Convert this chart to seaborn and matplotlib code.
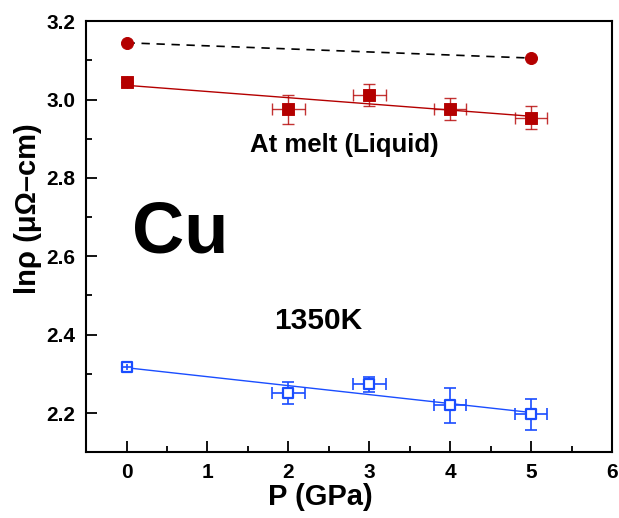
import matplotlib
matplotlib.use("Agg")
import matplotlib.pyplot as plt
from matplotlib.ticker import MultipleLocator, FormatStrFormatter
import seaborn as sns
import pandas as pd

# ln(rho) data
p_melt = [0, 5]
lnrho_melt = [3.145, 3.106]

p_liq = [0, 2, 3, 4, 5]
lnrho_liq = [3.045, 2.975, 3.011, 2.976, 2.954]
yerr_liq = [0.0, 0.038, 0.028, 0.029, 0.030]
xerr_liq = [0.0, 0.2, 0.2, 0.2, 0.2]

p_1350 = [0, 2, 3, 4, 5]
lnrho_1350 = [2.318, 2.250, 2.273, 2.220, 2.197]
yerr_1350 = [0.008, 0.028, 0.019, 0.045, 0.040]
xerr_1350 = [0.06, 0.2, 0.2, 0.2, 0.2]

red = "#b40000"
blue = "#1a4dff"

sns.set_style("ticks")
plt.rcParams['font.family'] = ['Liberation Sans', 'DejaVu Sans']
plt.rcParams['font.weight'] = 'bold'
plt.rcParams['text.color'] = 'black'
plt.rcParams['axes.labelcolor'] = 'black'
plt.rcParams['xtick.color'] = 'black'
plt.rcParams['ytick.color'] = 'black'

liq = pd.DataFrame({'P': p_liq, 'lnrho': lnrho_liq})
k1350 = pd.DataFrame({'P': p_1350, 'lnrho': lnrho_1350})
melt = pd.DataFrame({'P': p_melt, 'lnrho': lnrho_melt})

fig = plt.figure(figsize=(6.19, 5.18), dpi=100)
ax = fig.add_axes([0.139, 0.127, 0.850, 0.832])

# dashed line between melt points
sns.lineplot(data=melt, x='P', y='lnrho', ax=ax, color='black', linestyle=(0, (5, 4)),
             linewidth=1.2)
sns.scatterplot(data=melt, x='P', y='lnrho', ax=ax, color=red, s=75, marker='o',
                edgecolor=red, zorder=5)

# liquid: fit + error bars + squares
sns.regplot(data=liq, x='P', y='lnrho', ax=ax, scatter=False, ci=None, truncate=True,
            line_kws=dict(color=red, linewidth=1.0))
ax.errorbar(p_liq, lnrho_liq, yerr=yerr_liq, xerr=xerr_liq, fmt='none', ecolor=red,
            elinewidth=1.0, capsize=4, capthick=1.0, alpha=0.8)
sns.scatterplot(data=liq, x='P', y='lnrho', ax=ax, color=red, s=65, marker='s',
                edgecolor=red, zorder=5)

# 1350 K
sns.regplot(data=k1350, x='P', y='lnrho', ax=ax, scatter=False, ci=None, truncate=True,
            line_kws=dict(color=blue, linewidth=1.0))
ax.errorbar(p_1350[1:], lnrho_1350[1:], yerr=yerr_1350[1:], xerr=xerr_1350[1:], fmt='none',
            ecolor=blue, elinewidth=1.2, capsize=4, capthick=1.2)
sns.scatterplot(data=k1350, x='P', y='lnrho', ax=ax, facecolor='white', s=55, marker='s',
                edgecolor=blue, linewidth=1.6, zorder=5)
# tiny error bars drawn over the first marker
ax.errorbar(p_1350[:1], lnrho_1350[:1], yerr=yerr_1350[:1], xerr=xerr_1350[:1], fmt='none',
            ecolor=blue, elinewidth=1.2, capsize=0, zorder=6)

ax.set_xlim(-0.5, 6)
ax.set_ylim(2.1, 3.2)
ax.xaxis.set_major_locator(MultipleLocator(1))
ax.xaxis.set_minor_locator(MultipleLocator(0.5))
ax.yaxis.set_major_locator(MultipleLocator(0.2))
ax.yaxis.set_minor_locator(MultipleLocator(0.1))
ax.yaxis.set_major_formatter(FormatStrFormatter('%.1f'))
ax.tick_params(which='major', direction='in', length=8, width=1.3, labelsize=15, pad=7.5)
ax.tick_params(which='minor', direction='in', length=4, width=1.3)
for s in ax.spines.values():
    s.set_linewidth(1.5)
    s.set_color('black')
for lab in ax.get_xticklabels() + ax.get_yticklabels():
    lab.set_fontweight('bold')

ax.set_xlabel('P (GPa)', fontsize=21, fontweight='bold')
ax.set_ylabel('lnρ (μΩ–cm)', fontsize=21, fontweight='bold')
ax.xaxis.set_label_coords(0.445, -0.072)
ax.yaxis.set_label_coords(-0.084, 0.566)

ax.text(1.525, 2.866, 'At melt (Liquid)', fontsize=18.5, fontweight='bold', ha='left', va='baseline')
ax.text(0.068, 2.611, 'Cu', fontsize=52, fontweight='bold', ha='left', va='baseline')
ax.text(1.82, 2.414, '1350K', fontsize=21.5, fontweight='bold', ha='left', va='baseline')

fig.savefig('out.png', dpi=100)
